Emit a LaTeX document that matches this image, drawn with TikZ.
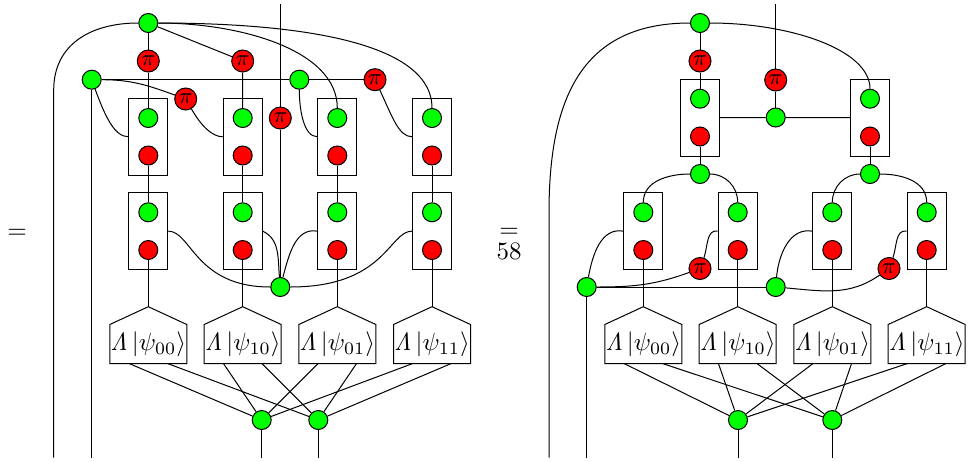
\documentclass[tikz,border=0pt]{standalone}
\usepackage{amsmath, amssymb}
\usetikzlibrary{calc, fit}
\definecolor{spiderg}{HTML}{00FF00}
\definecolor{spiderr}{HTML}{FF0000}
\newcommand{\stateprep}[3]{%
  \node[ket] (#1) at (#2,344) {$\mathit{\Lambda}\,|\psi_{#3}\rangle$};
  \coordinate (#1top) at (#2,306.7);
  \draw (#1.north west) -- (#1top) -- (#1.north east) -- (#1.south east) -- (#1.south west) -- cycle;
}
\begin{document}
\begin{tikzpicture}[
    x=0.4pt, y=-0.4pt,
    gdot/.style={draw, circle, fill=spiderg, minimum size=7.6pt, inner sep=0pt},
    rdot/.style={draw, circle, fill=spiderr, minimum size=7.6pt, inner sep=0pt},
    pidot/.style={draw, circle, fill=spiderr, minimum size=8.8pt, inner sep=0pt, font=\small},
    cell/.style={draw, inner sep=3.8pt},
    ket/.style={minimum width=30.4pt, minimum height=15.2pt, inner sep=0pt},
    sway/.style={out looseness=1.3, in looseness=0.6}
  ]
  \useasboundingbox (0,0) rectangle (968,461);

  \node (eq1) at (17,234) {$=$};
  \node (eq2) at (509,233) {$=$};
  \node (pagenum) at (509,251) {58};

  % left side
  \foreach \c/\x/\s in {1/148.3/00, 2/242.7/10, 3/337.3/01, 4/432/11} {
    \node[gdot] (lga\c) at (\x,118) {};
    \node[rdot] (lra\c) at (\x,155.5) {};
    \node[cell, fit=(lga\c)(lra\c)] (lba\c) {};
    \node[gdot] (lgb\c) at (\x,212.3) {};
    \node[rdot] (lrb\c) at (\x,250) {};
    \node[cell, fit=(lgb\c)(lrb\c)] (lbb\c) {};
    \stateprep{lh\c}{\x}{\s}
    \draw (lra\c) -- (lgb\c);
    \draw (lrb\c) -- (lh\c top);
  }
  \node[gdot] (lt) at (148.3,23) {};
  \node[gdot] (ll) at (91.7,79.7) {};
  \node[gdot] (lm) at (299.3,79.7) {};
  \node[gdot] (lb) at (280.3,287) {};
  \node[pidot] (lp1) at (148.3,61) {$\pi$};
  \node[pidot] (lp2) at (242.7,61) {$\pi$};
  \node[pidot] (lp3) at (185.7,99) {$\pi$};
  \node[pidot] (lp4) at (280.3,118) {$\pi$};
  \node[pidot] (lp5) at (375,79.7) {$\pi$};
  \node[gdot] (lo1) at (261.7,420) {};
  \node[gdot] (lo2) at (318.3,420) {};
  \coordinate (lbend) at (53.7,90);
  \coordinate (lout1) at (53.7,457.7);
  \coordinate (lout2) at (91.7,457.7);
  \coordinate (lout3) at (261.7,457.7);
  \coordinate (lout4) at (318.3,457.7);
  \coordinate (lin) at (280.3,4);

  \draw (lt) to[out=180,in=90,looseness=1.1] (lbend) -- (lout1);
  \draw (ll) -- (lout2);
  \draw (lo1) -- (lout3);
  \draw (lo2) -- (lout4);
  \draw (lt) -- (lp1) -- (lga1);
  \draw (lt) -- (lp2) -- (lga2);
  \draw (lt) .. controls +(92,0) and +(0,-68) .. (lga3);
  \draw (lt) .. controls +(142,0) and +(0,-78) .. (lga4);
  \draw (ll) -- (lm) -- (lp5);
  \draw (ll) to[out=-70,in=180,sway] (lba1.west);
  \draw (ll) to[out=0,in=160] (lp3);
  \draw (lp3) to[out=-60,in=180,sway] (lba2.west);
  \draw (lm) to[out=-90,in=180,in looseness=0.7] (lba3.west);
  \draw (lp5) to[out=-65,in=180,sway] (lba4.west);
  \draw (lin) -- (lp4) -- (lb);
  \draw (lbb1.east) .. controls +(23,0) and +(-85,0) .. (lb);
  \draw (lbb2.east) to[out=-25,in=95] (lb);
  \draw (lbb3.west) to[out=170,in=75] (lb);
  \draw (lbb4.west) .. controls +(-23,0) and +(105,0) .. (lb);
  \foreach \c in {1,2,3,4} {
    \draw ($(lh\c.south west)!.25!(lh\c.south east)$) -- (lo1);
    \draw ($(lh\c.south west)!.75!(lh\c.south east)$) -- (lo2);
  }

  % right side
  \foreach \c/\x in {1/700, 2/870} {
    \node[gdot] (rga\c) at (\x,98.7) {};
    \node[rdot] (rra\c) at (\x,136.5) {};
    \node[cell, fit=(rga\c)(rra\c)] (rba\c) {};
    \node[gdot] (rj\c) at (\x,174) {};
    \draw (rra\c) -- (rj\c);
  }
  \foreach \c/\x/\s in {1/643.3/00, 2/737.7/10, 3/832.3/01, 4/926.7/11} {
    \node[gdot] (rgb\c) at (\x,212.3) {};
    \node[rdot] (rrb\c) at (\x,250) {};
    \node[cell, fit=(rgb\c)(rrb\c)] (rbb\c) {};
    \stateprep{rh\c}{\x}{\s}
    \draw (rrb\c) -- (rh\c top);
  }
  \node[gdot] (rt) at (700,23) {};
  \node[gdot] (rc) at (775.7,117.5) {};
  \node[gdot] (rl) at (586.7,287) {};
  \node[gdot] (rm) at (775.7,287) {};
  \node[pidot] (rp1) at (700,61) {$\pi$};
  \node[pidot] (rp2) at (775.7,80) {$\pi$};
  \node[pidot] (rp3) at (700,268.5) {$\pi$};
  \node[pidot] (rp4) at (889,268.5) {$\pi$};
  \node[gdot] (ro1) at (738,420) {};
  \node[gdot] (ro2) at (832.3,420) {};
  \coordinate (rbend) at (549,213);
  \coordinate (rout1) at (549,457.7);
  \coordinate (rout2) at (586.7,457.7);
  \coordinate (rout3) at (738,457.7);
  \coordinate (rout4) at (832.3,457.7);
  \coordinate (rin) at (775.7,4);

  \draw (rt) to[out=180,in=90,looseness=1.2] (rbend) -- (rout1);
  \draw (rl) -- (rout2);
  \draw (ro1) -- (rout3);
  \draw (ro2) -- (rout4);
  \draw (rt) -- (rp1) -- (rga1);
  \draw (rt) .. controls +(90,0) and +(0,-49) .. (rga2);
  \draw (rin) -- (rp2) -- (rc);
  \draw (rba1.east) -- (rc) -- (rba2.west);
  \draw (rj1) to[out=180,in=90] (rgb1);
  \draw (rj1) to[out=0,in=90] (rgb2);
  \draw (rj2) to[out=180,in=90] (rgb3);
  \draw (rj2) to[out=0,in=90] (rgb4);
  \draw (rbb1.west) to[out=170,in=80] (rl);
  \draw (rl) to[out=0,in=200] (rp3);
  \draw (rp3) to[out=70,in=170] (rbb2.west);
  \draw (rl) -- (rm);
  \draw (rbb3.west) to[out=170,in=85] (rm);
  \draw (rm) to[out=-5,in=215] (rp4);
  \draw (rp4) to[out=70,in=170] (rbb4.west);
  \foreach \c in {1,2,3,4} {
    \draw ($(rh\c.south west)!.25!(rh\c.south east)$) -- (ro1);
    \draw ($(rh\c.south west)!.75!(rh\c.south east)$) -- (ro2);
  }
\end{tikzpicture}
\end{document}
